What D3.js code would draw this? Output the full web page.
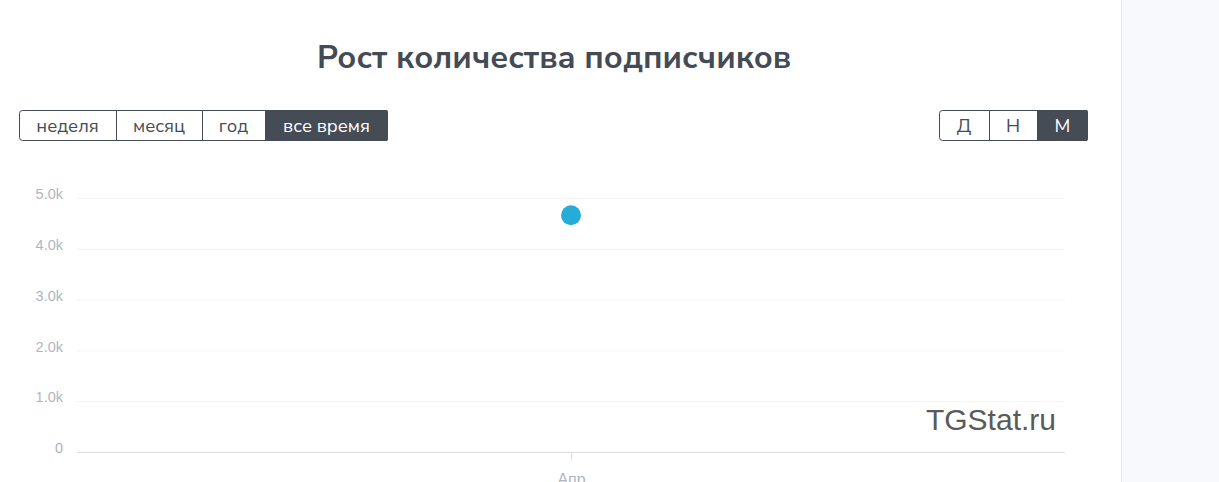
<!DOCTYPE html>
<html>
<head>
<meta charset="utf-8">
<script src="https://cdn.jsdelivr.net/npm/d3@7"></script>
<style>
  body { margin: 0; background: #fff; overflow: hidden; }
  svg { display: block; font-family: "Nunito Sans", Lato, "Open Sans", sans-serif; }
</style>
</head>
<body>
<svg class="chart"></svg>
<script>
let months = ['Апр'];
let subscribers = [4660];
let yTicks = [0, 1000, 2000, 3000, 4000, 5000];
let periodButtons = ['неделя', 'месяц', 'год', 'все время'];
let periodWidths = [97, 86, 63, 123];
let stepButtons = ['Д', 'Н', 'М'];
let stepWidths = [50, 48, 51];

let svg_width = 1219, svg_height = 482;
let svg = d3.select('.chart').attr('width', svg_width).attr('height', svg_height);

// right side panel
svg.append('rect').attr('x', 1121).attr('y', 0).attr('width', 98).attr('height', svg_height).attr('fill', '#f8f9fc');
svg.append('line').attr('x1', 1121.5).attr('x2', 1121.5).attr('y1', 0).attr('y2', svg_height).attr('stroke', '#e6e8ee');

svg.append('text')
  .text('Рост количества подписчиков')
  .attr('x', 554).attr('y', 68)
  .attr('text-anchor', 'middle')
  .attr('font-size', 32.3).attr('font-weight', 700)
  .attr('fill', '#454b55');

function buttonGroup(labels, widths, x0, active) {
  let g = svg.append('g').attr('transform', translate(x0, 110.5));
  let total = d3.sum(widths);
  let xs = d3.cumsum([0].concat(widths));
  g.append('rect').attr('x', 0.5).attr('y', 0).attr('width', total - 1).attr('height', 30)
    .attr('rx', 3).attr('fill', '#fff').attr('stroke', '#464c56');
  labels.forEach((l, i) => {
    if (i === active) {
      let clip = 'clip' + x0;
      g.append('clipPath').attr('id', clip).append('rect')
        .attr('x', 0).attr('y', -1).attr('width', total).attr('height', 32).attr('rx', 3);
      g.append('rect').attr('x', xs[i]).attr('y', -0.5).attr('width', widths[i]).attr('height', 31)
        .attr('fill', '#464c56').attr('clip-path', 'url(#' + clip + ')');
    } else if (i > 0) {
      g.append('line').attr('x1', xs[i] + 0.5).attr('x2', xs[i] + 0.5).attr('y1', 0).attr('y2', 30)
        .attr('stroke', '#464c56');
    }
    g.append('text').text(l)
      .attr('x', xs[i] + widths[i] / 2).attr('y', 21.5)
      .attr('text-anchor', 'middle').attr('font-size', 18.5)
      .attr('font-weight', 400)
      .attr('fill', i === active ? '#fff' : '#464c56');
  });
}
buttonGroup(periodButtons, periodWidths, 19, 3);
buttonGroup(stepButtons, stepWidths, 939, 2);

let margin_left = 77, chart_right = 1065;
let scaleX = d3.scalePoint().domain(months).range([margin_left, chart_right]).padding(0.5);
let scaleY = d3.scaleLinear().domain([0, 5000]).range([452, 198]);

let axisY = d3.axisLeft(scaleY).tickValues(yTicks)
  .tickFormat(d => d === 0 ? '0' : (d / 1000).toFixed(1) + 'k');

svg.append('g')
  .attr('transform', translate(margin_left, 0))
  .attr('class', 'y-axis')
  .call(customYAxis);

let axisX = d3.axisBottom(scaleX).tickSize(8).tickPadding(14);
svg.append('g')
  .attr('transform', translate(0, 452))
  .attr('class', 'x-axis')
  .call(g => {
    g.call(axisX);
    g.select('.domain').remove();
    g.selectAll('.tick line').attr('stroke', '#dcdde0');
    g.selectAll('.tick text').attr('fill', '#b0b5bf').attr('font-size', 16).attr('font-family', 'inherit');
  });

svg.append('line').attr('x1', margin_left).attr('x2', chart_right)
  .attr('y1', 452.5).attr('y2', 452.5).attr('stroke', '#dcdde0');

svg.append('text').text('TGStat.ru')
  .attr('x', 1056).attr('y', 430)
  .attr('text-anchor', 'end')
  .attr('font-family', '"Liberation Sans", Arial, sans-serif')
  .attr('font-size', 30).attr('fill', '#5a5a5a');

svg.selectAll('circle.point')
  .data(subscribers)
  .enter()
  .append('circle')
  .attr('class', 'point')
  .attr('cx', (d, i) => scaleX(months[i]))
  .attr('cy', d => scaleY(d))
  .attr('r', 10)
  .attr('fill', '#27acd9');

function translate(x, y) {
  return 'translate(' + x + ',' + y + ')';
}

function customYAxis(g) {
  g.call(axisY);
  g.select('.domain').remove();
  g.selectAll('.tick line')
    .attr('x1', 0).attr('x2', chart_right - margin_left)
    .attr('stroke', d => d === 0 ? 'none' : '#f3f4f7');
  g.selectAll('.tick text')
    .attr('x', -14).attr('y', -4)
    .attr('fill', '#b0b5bf')
    .attr('font-size', 14.5)
    .attr('font-family', 'inherit');
}
</script>
</body>
</html>
